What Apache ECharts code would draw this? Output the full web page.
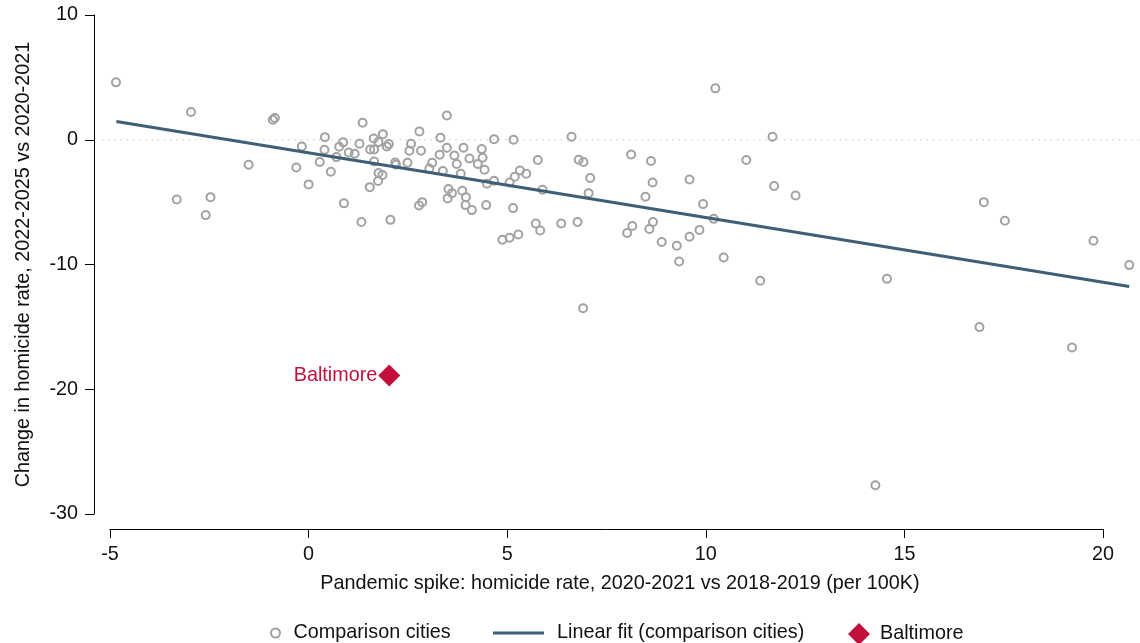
<!DOCTYPE html>
<html>
<head>
<meta charset="utf-8">
<script src="https://cdn.jsdelivr.net/npm/echarts@6/dist/echarts.min.js"></script>
<style>
html,body{margin:0;padding:0;background:#fff;}
#chart{width:1140px;height:643px;}
</style>
</head>
<body>
<div id="chart"></div>
<script>
// Comparison cities: pandemic spike (x) and later change (y)
const cityX = [-4.85,-2.96,-3.32,-2.59,-2.47,-1.51,-0.9,-0.85,-0.31,-0.17,0.0,0.28,0.41,0.40,0.56,0.70,0.77,0.87,0.89,1.01,1.16,1.28,1.33,1.36,1.54,1.55,1.65,1.64,1.65,1.76,1.87,1.97,2.02,1.76,1.86,1.75,2.06,2.18,2.2,2.49,2.79,2.58,2.54,2.83,3.32,3.48,3.48,3.30,3.11,3.04,3.38,3.67,3.73,3.90,4.05,3.83,4.36,4.38,4.26,4.43,4.67,5.16,5.06,5.19,5.32,5.48,5.77,5.89,4.49,4.67,3.52,3.61,3.50,3.87,3.96,3.95,4.11,4.47,2.78,2.86,5.15,4.88,5.06,5.28,5.72,5.83,6.36,6.77,6.62,6.80,6.92,7.09,7.05,8.12,8.62,8.66,8.48,9.59,9.93,10.2,8.02,8.15,8.58,8.67,8.89,9.27,9.33,9.59,9.84,10.45,11.37,10.24,11.02,11.68,11.72,6.91,12.26,17.0,17.53,19.76,20.66,14.56,16.89,19.22,14.27];
const cityY = [4.6,2.22,-4.79,-6.04,-4.6,-2.0,1.6,1.74,-2.22,-0.54,-3.58,-1.79,0.21,-0.8,-2.57,-1.39,-0.56,-0.21,-5.1,-1.02,-1.12,-0.32,-6.6,1.36,-3.8,-0.78,-0.78,0.1,-1.74,-0.19,0.45,-0.54,-0.35,-2.67,-2.83,-3.31,-6.42,-1.82,-2.0,-1.84,0.67,-0.32,-0.88,-0.88,0.16,1.95,-0.64,-1.2,-1.84,-2.3,-2.51,-1.26,-1.95,-0.64,-1.5,-2.73,-0.75,-1.44,-1.95,-2.41,0.05,0.0,-3.42,-2.97,-2.46,-2.73,-1.63,-4.01,-3.53,-3.29,-3.95,-4.28,-4.7,-4.09,-4.6,-5.24,-5.64,-5.24,-5.27,-5.0,-5.48,-8.02,-7.86,-7.59,-6.71,-7.27,-6.71,-6.6,0.24,-1.6,-1.79,-3.07,-4.28,-1.18,-1.71,-3.42,-4.57,-3.18,-5.16,-6.34,-7.48,-6.92,-7.16,-6.6,-8.2,-8.5,-9.76,-7.78,-7.24,-9.44,-11.3,4.12,-1.63,0.24,-3.71,-13.5,-4.47,-5.0,-6.5,-8.1,-10.05,-11.15,-15.02,-16.65,-27.7];
// Linear fit endpoints (comparison cities)
const fitX = [-4.84, 20.66];
const fitY = [1.47, -11.76];
// Baltimore
const baltimoreX = 2.03;
const baltimoreY = -18.9;
// Zero reference line extent
const zeroX = [-5.2, 20.9];
// Axis ticks
const xTicks = {min: -5, max: 20, interval: 5};
const yTicks = {min: -30, max: 10, interval: 10};
// Extended x range (same scale) used for the overlay lines
const xWide = {min: -5.25, max: 20.9};

const FONT = 'Liberation Sans, Arial, Helvetica, sans-serif';
const TXT = '#111';
const FS = 19.8;
const RED = '#c20f3c';
const citiesData = cityX.map((x, i) => [x, cityY[i]]);
const fitData = fitX.map((x, i) => [x, fitY[i]]);
const zeroData = zeroX.map(x => [x, 0]);

// grid geometry: main grid and a wider grid sharing the same px/unit
const G = {left: 110, right: 37, top: 15, bottom: 129, W: 1140};
const pxPerUnit = (G.W - G.left - G.right) / (xTicks.max - xTicks.min);
const wideLeft = G.left - (xTicks.min - xWide.min) * pxPerUnit;
const wideRight = G.W - wideLeft - (xWide.max - xWide.min) * pxPerUnit;

const chart = echarts.init(document.getElementById('chart'), null, {renderer: 'canvas'});
const legendText = {fontFamily: FONT, fontSize: FS, color: TXT};
chart.setOption({
  animation: false,
  backgroundColor: '#fff',
  grid: [
    {left: G.left, right: G.right, top: G.top, bottom: G.bottom},
    {left: wideLeft, right: wideRight, top: G.top, bottom: G.bottom}
  ],
  legend: [
    {data: ['Comparison cities'], left: 265, top: 618, itemWidth: 20, itemHeight: 9, itemGap: 0,
      textStyle: Object.assign({padding: [0, 0, 0, 3]}, legendText), selectedMode: false},
    {data: [{name: 'Linear fit (comparison cities)', icon: 'rect'}], left: 488, top: 618, itemWidth: 51, itemHeight: 3,
      textStyle: Object.assign({padding: [0, 0, 0, 8]}, legendText), selectedMode: false},
    {data: ['Baltimore'], left: 843, top: 618, itemWidth: 22, itemHeight: 22,
      textStyle: Object.assign({padding: [0, 0, 0, 5]}, legendText), selectedMode: false}
  ],
  xAxis: [{
    type: 'value', gridIndex: 0, min: xTicks.min, max: xTicks.max, interval: xTicks.interval,
    offset: 15,
    name: 'Pandemic spike: homicide rate, 2020-2021 vs 2018-2019 (per 100K)',
    nameLocation: 'middle', nameGap: 45,
    nameTextStyle: {fontFamily: FONT, fontSize: FS, color: TXT, padding: [0, 0, 0, 27]},
    axisLine: {show: true, onZero: false, lineStyle: {color: '#000', width: 1}},
    axisTick: {show: true, length: 9, lineStyle: {color: '#000'}},
    axisLabel: {fontFamily: FONT, fontSize: FS, color: TXT, margin: 16},
    splitLine: {show: false}
  }, {
    type: 'value', gridIndex: 1, min: xWide.min, max: xWide.max, show: false
  }],
  yAxis: [{
    type: 'value', gridIndex: 0, min: yTicks.min, max: yTicks.max, interval: yTicks.interval,
    offset: 16,
    name: 'Change in homicide rate, 2022-2025 vs 2020-2021',
    nameLocation: 'middle', nameGap: 60, nameRotate: 90,
    nameTextStyle: {fontFamily: FONT, fontSize: FS, color: TXT},
    axisLine: {show: true, onZero: false, lineStyle: {color: '#000', width: 1}},
    axisTick: {show: true, length: 9, lineStyle: {color: '#000'}},
    axisLabel: {fontFamily: FONT, fontSize: FS, color: TXT, margin: 16},
    splitLine: {show: false}
  }, {
    type: 'value', gridIndex: 1, min: yTicks.min, max: yTicks.max, show: false
  }],
  series: [
    {
      name: 'zero', type: 'line', xAxisIndex: 1, yAxisIndex: 1, data: zeroData, silent: true,
      symbol: 'none', lineStyle: {color: '#bdbdbd', width: 1.2, type: [1.2, 5]}, z: 1
    },
    {
      name: 'Comparison cities', type: 'scatter', data: citiesData, clip: false,
      symbol: 'circle', symbolSize: 8,
      itemStyle: {color: 'rgba(0,0,0,0)', borderColor: '#a2a2a2', borderWidth: 2, opacity: 1},
      z: 2
    },
    {
      name: 'Linear fit (comparison cities)', type: 'line', xAxisIndex: 1, yAxisIndex: 1, data: fitData,
      symbol: 'none', lineStyle: {color: '#3d5f78', width: 3}, itemStyle: {color: '#3d5f78'}, z: 3
    },
    {
      name: 'Baltimore', type: 'scatter', data: [[baltimoreX, baltimoreY]], clip: false,
      symbol: 'diamond', symbolSize: 22,
      itemStyle: {color: RED, opacity: 1},
      label: {show: true, position: 'left', distance: 1, formatter: 'Baltimore',
        fontFamily: FONT, fontSize: FS, color: RED},
      z: 4
    }
  ]
});
</script>
</body>
</html>
